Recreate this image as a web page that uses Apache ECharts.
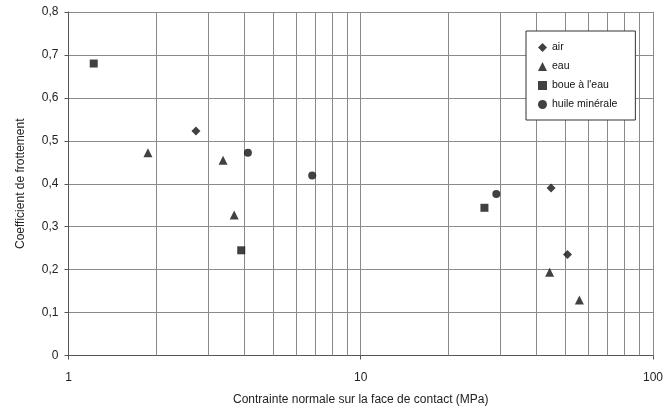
<!DOCTYPE html>
<html><head><meta charset="utf-8">
<script src="https://cdn.jsdelivr.net/npm/echarts@6/dist/echarts.min.js"></script>
<style>html,body{margin:0;padding:0;background:#fff}#c{width:666px;height:412px}</style>
</head><body><div id="c"></div>
<script>
var seriesNames = ['air', 'eau', 'boue à l\'eau', 'huile minérale'];
var airData = [[2.73, 0.523], [44.8, 0.390], [51.0, 0.235]];
var eauData = [[1.87, 0.472], [3.38, 0.455], [3.69, 0.327], [44.3, 0.194], [56.0, 0.129]];
var boueData = [[1.22, 0.680], [3.90, 0.245], [26.5, 0.344]];
var huileData = [[4.11, 0.472], [6.82, 0.419], [29.1, 0.376]];
var minorGridX = [2, 3, 4, 5, 6, 7, 8, 9, 20, 30, 40, 50, 60, 70, 80, 90];
var yTicks = [0, 0.1, 0.2, 0.3, 0.4, 0.5, 0.6, 0.7, 0.8];

var font = 'Arial';
var chart = echarts.init(document.getElementById('c'), null, {renderer: 'canvas'});
function mk(name, data, symbol, size) {
  return {
    name: name, type: 'scatter', data: data, symbol: symbol, symbolSize: size,
    itemStyle: {color: '#111'}, z: 3
  };
}
var series = [
  mk(seriesNames[0], airData, 'diamond', 9),
  mk(seriesNames[1], eauData, 'triangle', 9),
  mk(seriesNames[2], boueData, 'rect', 8),
  mk(seriesNames[3], huileData, 'circle', 8)
];
series[0].markLine = {
  silent: true, symbol: ['none', 'none'], label: {show: false},
  lineStyle: {color: '#8a8a8a', width: 1, type: 'solid'},
  emphasis: {disabled: true},
  z: 1,
  data: minorGridX.map(function (v) { return {xAxis: v}; })
};
chart.setOption({
  animation: false,
  backgroundColor: '#fff',
  grid: {left: 68.5, right: 10.5, top: 12, bottom: 56.5},
  legend: {
    orient: 'vertical', left: 526, top: 31, z: 20,
    data: seriesNames,
    padding: [11, 18, 10, 12], itemGap: 8, itemWidth: 9, itemHeight: 9,
    backgroundColor: '#fff', borderColor: '#333', borderWidth: 1,
    textStyle: {fontFamily: font, fontSize: 10.5, color: '#111'}
  },
  xAxis: {
    type: 'log', logBase: 10, min: 1, max: 100,
    name: 'Contrainte normale sur la face de contact (MPa)',
    nameLocation: 'middle', nameGap: 38,
    nameTextStyle: {fontFamily: font, fontSize: 12, color: '#222'},
    axisLine: {lineStyle: {color: '#555', width: 1}},
    axisTick: {show: true, length: 4, lineStyle: {color: '#555'}},
    axisLabel: {fontFamily: font, fontSize: 12, color: '#222', margin: 16},
    splitLine: {show: true, lineStyle: {color: '#8a8a8a', width: 1}}
  },
  yAxis: {
    type: 'value', min: 0, max: 0.8, interval: 0.1,
    name: 'Coefficient de frottement',
    nameLocation: 'middle', nameGap: 42,
    nameTextStyle: {fontFamily: font, fontSize: 12, color: '#222'},
    axisLine: {show: true, lineStyle: {color: '#555', width: 1}},
    axisTick: {show: true, length: 4, lineStyle: {color: '#555'}},
    axisLabel: {
      fontFamily: font, fontSize: 12, color: '#222', margin: 10,
      formatter: function (v) {
        var t = yTicks.filter(function (k) { return Math.abs(k - v) < 1e-6; });
        return (t.length ? t[0] : v).toFixed(1).replace(/\.0$/, '').replace('.', ',');
      }
    },
    splitLine: {show: true, lineStyle: {color: '#8a8a8a', width: 1}}
  },
  series: series
});
</script></body></html>
